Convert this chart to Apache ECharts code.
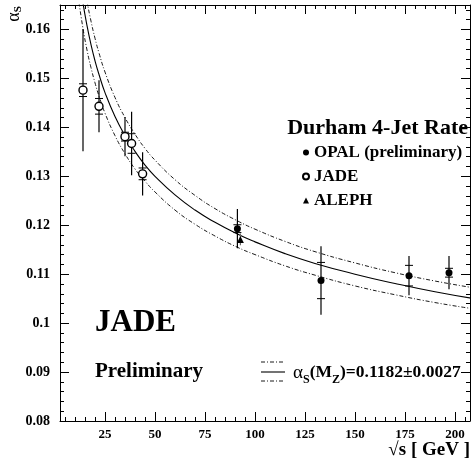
<!DOCTYPE html>
<html><head><meta charset="utf-8">
<script src="https://cdn.jsdelivr.net/npm/echarts@6/dist/echarts.min.js"></script>
<style>html,body{margin:0;padding:0;background:#fff}#c{width:473px;height:462px}</style>
</head><body><div id="c"></div>
<script>
const FONT = '"Liberation Serif", "Times New Roman", serif';

// ---- data ----
const jadeX    = [14, 22, 35, 38.3, 43.8];
const jadeY    = [0.1476, 0.1443, 0.1381, 0.1367, 0.1305];
const jadeStat = [0.0013, 0.0016, 0.0009, 0.0020, 0.0012];
const jadeTot  = [0.0125, 0.0053, 0.0040, 0.0065, 0.0044];

const opalX    = [91.2, 133, 177, 197];
const opalY    = [0.1193, 0.1087, 0.1097, 0.1103];
const opalStat = [0.0008, 0.0037, 0.0021, 0.0009];
const opalTot  = [0.0040, 0.0070, 0.0040, 0.0034];

const alephX    = [92.7];
const alephY    = [0.1171];
const alephStat = [0];
const alephTot  = [0.0012];

const curveX   = [12, 14, 16, 18, 20, 22, 25, 30, 35, 40, 45, 50, 60, 70, 80, 91.2, 100, 115, 130, 150, 170, 190, 208];
const curveMid = [0.1711,0.1654,0.1608,0.1569,0.1536,0.1508,0.1471,0.1422,0.1383,0.1351,0.1323,0.1300,0.1262,0.1231,0.1206,0.1182,0.1166,0.1142,0.1122,0.1100,0.1081,0.1064,0.1051];
const curveUp  = [0.1768,0.1707,0.1658,0.1617,0.1582,0.1552,0.1513,0.1461,0.1420,0.1386,0.1357,0.1333,0.1293,0.1261,0.1234,0.1209,0.1192,0.1167,0.1146,0.1123,0.1103,0.1086,0.1073];
const curveLo  = [0.1655,0.1602,0.1558,0.1522,0.1491,0.1464,0.1429,0.1383,0.1346,0.1315,0.1290,0.1268,0.1231,0.1202,0.1178,0.1155,0.1140,0.1117,0.1098,0.1076,0.1058,0.1042,0.1030];

const xMajorTicks = [25, 50, 75, 100, 125, 150, 175, 200];
const xMinorTicks = [5,10,15,20,30,35,40,45,55,60,65,70,80,85,90,95,105,110,115,120,130,135,140,145,155,160,165,170,180,185,190,195,205];
const yMajorTicks = [0.08, 0.09, 0.1, 0.11, 0.12, 0.13, 0.14, 0.15, 0.16];
const yMinorTicks = [0.082,0.084,0.086,0.088,0.092,0.094,0.096,0.098,0.102,0.104,0.106,0.108,0.112,0.114,0.116,0.118,0.122,0.124,0.126,0.128,0.132,0.134,0.136,0.138,0.142,0.144,0.146,0.148,0.152,0.154,0.156,0.158,0.162,0.164];

const X_MIN = 2.5, X_MAX = 207.5, Y_MIN = 0.08, Y_MAX = 0.165;

// ---- helpers ----
const zip = (xs, ys) => xs.map((x, i) => [x, ys[i]]);
const errData = (xs, ys, st, tot) => xs.map((x, i) => [x, ys[i], ys[i] - st[i], ys[i] + st[i], ys[i] - tot[i], ys[i] + tot[i]]);

function errSeries(data, color) {
  return {
    type: 'custom', data, silent: true, z: 2, clip: true,
    encode: { x: 0, y: 1 },
    renderItem(params, api) {
      const x = api.value(0);
      const top = api.coord([x, api.value(5)]);
      const bot = api.coord([x, api.value(4)]);
      const children = [{ type: 'line', shape: { x1: top[0], y1: top[1], x2: bot[0], y2: bot[1] }, style: { stroke: color, lineWidth: 1.2 } }];
      if (api.value(3) !== api.value(2)) {
        [api.value(2), api.value(3)].forEach(v => {
          const p = api.coord([x, v]);
          children.push({ type: 'line', shape: { x1: p[0] - 4, y1: p[1], x2: p[0] + 4, y2: p[1] }, style: { stroke: color, lineWidth: 1 } });
        });
      }
      return { type: 'group', children };
    }
  };
}

function xAx(pos, ticks, len, labels, line) {
  return {
    type: 'value', position: pos, min: X_MIN, max: X_MAX,
    axisLine: { show: line, onZero: false, lineStyle: { color: '#000', width: 1 } },
    axisTick: { show: true, inside: true, length: len, customValues: ticks, lineStyle: { color: '#000', width: 1 } },
    axisLabel: labels ? { show: true, customValues: ticks, color: '#000', fontFamily: FONT, fontWeight: 'bold', fontSize: 13, margin: 7 } : { show: false },
    splitLine: { show: false }
  };
}
function yAx(pos, ticks, len, labels, line) {
  return {
    type: 'value', position: pos, min: Y_MIN, max: Y_MAX,
    axisLine: { show: line, onZero: false, lineStyle: { color: '#000', width: 1 } },
    axisTick: { show: true, inside: true, length: len, customValues: ticks, lineStyle: { color: '#000', width: 1 } },
    axisLabel: labels ? { show: true, customValues: ticks, color: '#000', fontFamily: FONT, fontWeight: 'bold', fontSize: 14, margin: 10 } : { show: false },
    splitLine: { show: false }
  };
}

const chart = echarts.init(document.getElementById('c'), null, { renderer: 'canvas' });
chart.setOption({
  animation: false,
  backgroundColor: '#fff',
  grid: { left: 60, right: 3, top: 5, bottom: 41, containLabel: false },
  xAxis: [
    xAx('bottom', xMajorTicks, 9, true, true),
    xAx('bottom', xMinorTicks, 4, false, false),
    xAx('top', xMajorTicks, 9, false, true),
    xAx('top', xMinorTicks, 4, false, false)
  ],
  yAxis: [
    yAx('left', yMajorTicks, 9, true, true),
    yAx('left', yMinorTicks, 4, false, false),
    yAx('right', yMajorTicks, 9, false, true),
    yAx('right', yMinorTicks, 4, false, false)
  ],
  legend: {
    left: 302, top: 144, padding: 0, orient: 'vertical', itemWidth: 6, itemHeight: 6, itemGap: 7,
    selectedMode: false,
    textStyle: { fontFamily: FONT, fontWeight: 'bold', fontSize: 17, color: '#000' },
    data: [
      { name: 'OPAL (preliminary)', icon: 'circle' },
      { name: 'JADE', icon: 'circle' },
      { name: 'ALEPH', icon: 'triangle' }
    ]
  },
  series: [
    { type: 'line', data: zip(curveX, curveUp), smooth: true, symbol: 'none', z: 1, clip: true,
      lineStyle: { color: '#000', width: 0.9, type: [4, 2, 1, 2] } },
    { type: 'line', data: zip(curveX, curveLo), smooth: true, symbol: 'none', z: 1, clip: true,
      lineStyle: { color: '#000', width: 0.9, type: [4, 2, 1, 2] } },
    { type: 'line', data: zip(curveX, curveMid), smooth: true, symbol: 'none', z: 1, clip: true,
      lineStyle: { color: '#000', width: 1.1 } },
    errSeries(errData(jadeX, jadeY, jadeStat, jadeTot), '#000'),
    errSeries(errData(opalX, opalY, opalStat, opalTot), '#000'),
    errSeries(errData(alephX, alephY, alephStat, alephTot), '#666'),
    { name: 'OPAL (preliminary)', type: 'scatter', data: zip(opalX, opalY), symbol: 'circle', symbolSize: 7, z: 3,
      itemStyle: { color: '#000', opacity: 1 } },
    { name: 'JADE', type: 'scatter', data: zip(jadeX, jadeY), symbol: 'circle', symbolSize: 8, z: 3,
      itemStyle: { color: '#fff', borderColor: '#000', borderWidth: 1.4, opacity: 1 } },
    { name: 'ALEPH', type: 'scatter', data: zip(alephX, alephY), symbol: 'triangle', symbolSize: 7, z: 3,
      itemStyle: { color: '#000', opacity: 1 } }
  ],
  graphic: [
    { type: 'text', x: 468, y: 128, silent: true,
      style: { text: 'Durham 4-Jet Rate', font: 'bold 22px ' + FONT, fill: '#000', align: 'right', verticalAlign: 'middle' } },
    { type: 'text', x: 95, y: 323, silent: true,
      style: { text: 'JADE', font: 'bold 31px ' + FONT, fill: '#000', align: 'left', verticalAlign: 'middle' } },
    { type: 'text', x: 95, y: 372, silent: true,
      style: { text: 'Preliminary', font: 'bold 21px ' + FONT, fill: '#000', align: 'left', verticalAlign: 'middle' } },
    { type: 'line', silent: true, shape: { x1: 261, y1: 362, x2: 285, y2: 362 }, style: { stroke: '#000', lineWidth: 0.9, lineDash: [4, 2, 1, 2] } },
    { type: 'line', silent: true, shape: { x1: 261, y1: 372, x2: 285, y2: 372 }, style: { stroke: '#000', lineWidth: 1.1 } },
    { type: 'line', silent: true, shape: { x1: 261, y1: 381, x2: 285, y2: 381 }, style: { stroke: '#000', lineWidth: 0.9, lineDash: [4, 2, 1, 2] } },
    { type: 'text', x: 293, y: 373, silent: true,
      style: {
        text: '{a|α}{s|S}{b|(M}{s|Z}{b|)=0.1182±0.0027}',
        fill: '#000', align: 'left', verticalAlign: 'middle',
        rich: {
          a: { fontFamily: FONT, fontWeight: 'normal', fontSize: 19, lineHeight: 19, verticalAlign: 'top', fill: '#000' },
          b: { fontFamily: FONT, fontWeight: 'bold', fontSize: 17.5, lineHeight: 19, verticalAlign: 'top', fill: '#000' },
          s: { fontFamily: FONT, fontWeight: 'bold', fontSize: 12, lineHeight: 12, padding: [10, 0, 0, 0], verticalAlign: 'top', fill: '#000' }
        }
      } },
    { type: 'text', x: 470, y: 450, silent: true,
      style: { text: '√s [ GeV ]', font: 'bold 19px ' + FONT, fill: '#000', align: 'right', verticalAlign: 'middle' } },
    { type: 'text', x: 14, y: 14, rotation: Math.PI / 2, silent: true,
      style: {
        text: '{a|α}{s|S}',
        fill: '#000', align: 'center', verticalAlign: 'middle',
        rich: {
          a: { fontFamily: FONT, fontWeight: 'normal', fontSize: 18, lineHeight: 18, verticalAlign: 'top', fill: '#000' },
          s: { fontFamily: FONT, fontWeight: 'bold', fontSize: 11, lineHeight: 12, padding: [8, 0, 0, 0], verticalAlign: 'top', fill: '#000' }
        }
      } }
  ]
});
</script>
</body></html>
